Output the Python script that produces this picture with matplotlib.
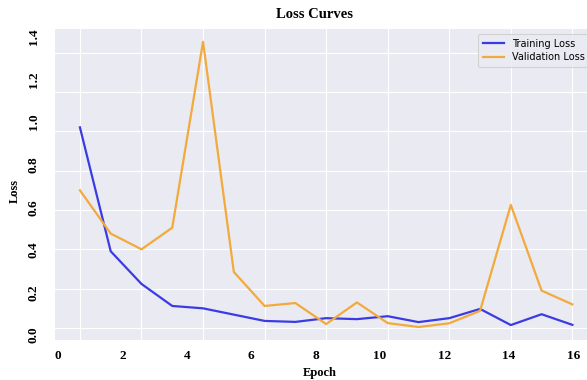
import matplotlib
matplotlib.use('Agg')
import matplotlib.pyplot as plt
import numpy as np

# data (17 epochs)
epochs = list(range(17))
train_loss = [1.02, 0.39, 0.224, 0.112, 0.10, 0.068, 0.036, 0.031, 0.05, 0.045,
              0.06, 0.03, 0.05, 0.097, 0.015, 0.07, 0.016]
val_loss = [0.70, 0.48, 0.40, 0.51, 1.455, 0.285, 0.112, 0.127, 0.02, 0.13,
            0.025, 0.005, 0.024, 0.087, 0.626, 0.19, 0.12]

x_tick_labels = [0, 2, 4, 6, 8, 10, 12, 14, 16]
y_tick_labels = [0.0, 0.2, 0.4, 0.6, 0.8, 1.0, 1.2, 1.4]

serif = 'Liberation Serif'
W, H = 587, 380

fig = plt.figure(figsize=(W / 100, H / 100), dpi=100)
pos = [55 / W, (H - 340) / H, (597 - 55) / W, (340 - 29) / H]

# inner plot: seaborn darkgrid look
ax = fig.add_axes(pos)
ax.set_facecolor('#EAEAF2')
for s in ax.spines.values():
    s.set_visible(False)
ax.plot(epochs, train_loss, color='#3b3be3', lw=1.6, label='Training Loss')
ax.plot(epochs, val_loss, color='#f2aa3c', lw=1.6, label='Validation Loss')
ax.set_xlim(-0.81, 16.8)
ax.set_ylim(-0.061, 1.52)
ax.set_xticks(np.arange(0, 17, 2))
ax.set_yticks(np.arange(0, 1.41, 0.2))
ax.grid(True, color='white', lw=0.8)
ax.set_axisbelow(True)
ax.tick_params(length=0, labelbottom=False, labelleft=False)
leg = ax.legend(loc='upper right', bbox_to_anchor=(0.995, 1.0),
                prop={'family': 'DejaVu Sans', 'size': 7},
                frameon=True, facecolor='#EAEAF2', edgecolor='#cccccc',
                handlelength=2.2, borderpad=0.5, labelspacing=0.35)
leg.get_frame().set_linewidth(0.8)

# outer tick labels
ax2 = fig.add_axes(pos, frameon=False)
ax2.patch.set_alpha(0)
ax2.set_xlim(-0.093, 16.74)
ax2.set_ylim(-0.023, 1.437)
ax2.set_xticks(x_tick_labels)
ax2.set_xticklabels([str(v) for v in x_tick_labels])
ax2.set_yticks(y_tick_labels)
ax2.set_yticklabels(['%.1f' % v for v in y_tick_labels], rotation=90, va='center')
ax2.tick_params(length=0)
ax2.tick_params(axis='x', pad=7)
ax2.tick_params(axis='y', pad=11)
for lab in ax2.get_xticklabels() + ax2.get_yticklabels():
    lab.set_fontfamily(serif)
    lab.set_fontweight('bold')
    lab.set_fontsize(9.5)

fig.text(315 / W, 1 - 14 / H, 'Loss Curves', ha='center', va='center',
         family=serif, weight='bold', fontsize=10.5)
fig.text(320 / W, 1 - 373 / H, 'Epoch', ha='center', va='center',
         family=serif, weight='bold', fontsize=9)
fig.text(15 / W, 1 - 191 / H, 'Loss', ha='center', va='center', rotation=90,
         family=serif, weight='bold', fontsize=9)

fig.savefig('out.png', dpi=100)
